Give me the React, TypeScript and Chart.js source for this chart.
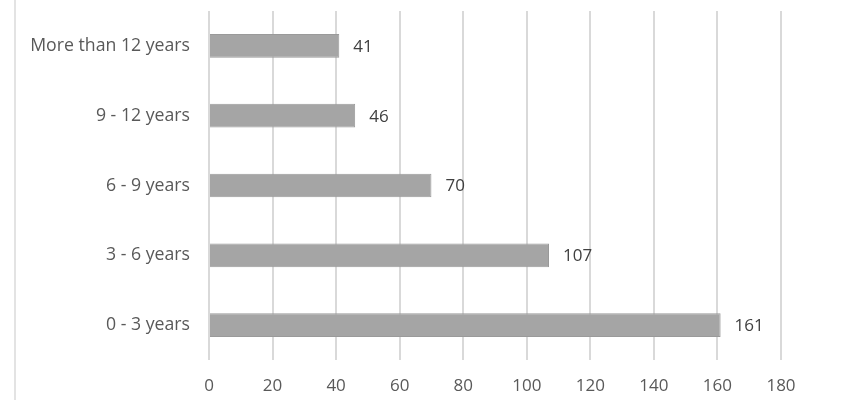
import React, { useEffect, useRef } from "react";
import { Chart, registerables } from "chart.js";

Chart.register(...registerables);

const categories = ["More than 12 years", "9 - 12 years", "6 - 9 years", "3 - 6 years", "0 - 3 years"];
const counts = [41, 46, 70, 107, 161];
const xTicks = [0, 20, 40, 60, 80, 100, 120, 140, 160, 180];

const FONT = "'Open Sans', sans-serif";

const valueLabels = {
  id: "valueLabels",
  afterDatasetsDraw(chart: any) {
    const ctx = chart.ctx;
    const meta = chart.getDatasetMeta(0);
    ctx.save();
    ctx.font = `17px ${FONT}`;
    ctx.fillStyle = "#404040";
    ctx.textAlign = "left";
    ctx.textBaseline = "middle";
    meta.data.forEach((el: any, i: number) => {
      ctx.fillText(String(counts[i]), el.x + 14, el.y + 1);
    });
    ctx.restore();
  },
};

export default function App() {
  const ref = useRef<HTMLCanvasElement>(null);
  useEffect(() => {
    if (!ref.current) return;
    const chart = new Chart(ref.current, {
      type: "bar",
      data: {
        labels: categories,
        datasets: [
          {
            data: counts,
            backgroundColor: "#a5a5a5",
            borderColor: "#9a9a9a",
            borderWidth: 1,
            barPercentage: 0.68,
            categoryPercentage: 0.5,
          },
        ],
      },
      options: {
        indexAxis: "y",
        animation: false,
        responsive: false,
        maintainAspectRatio: false,
        layout: { padding: { top: 11, right: 63, bottom: 0, left: 0 } },
        plugins: { legend: { display: false }, tooltip: { enabled: false } },
        scales: {
          x: {
            min: 0,
            max: 180,
            afterBuildTicks: (s: any) => {
              s.ticks = xTicks.map((v) => ({ value: v }));
            },
            afterFit: (s: any) => {
              s.height = 50;
              s.paddingLeft = 0;
              s.paddingRight = 0;
            },
            grid: { color: "#d9d9d9", lineWidth: 2, drawTicks: false },
            border: { display: false },
            ticks: { color: "#595959", font: { family: FONT, size: 17 }, padding: 16 },
          },
          y: {
            afterFit: (s: any) => {
              s.width = 209;
              s.paddingTop = 0;
              s.paddingBottom = 0;
            },
            grid: { display: false, drawTicks: false },
            border: { display: false },
            ticks: { color: "#595959", font: { family: FONT, size: 17.7 }, padding: 19 },
          },
        },
      },
      plugins: [valueLabels],
    });
    return () => chart.destroy();
  }, []);
  return (
    <div style={{ position: "fixed", left: 0, top: 0, width: 844, height: 410, background: "#fff" }}>
      <div style={{ position: "absolute", left: 14, top: 0, width: 2, height: 400, background: "#e3e3e3" }} />
      <canvas ref={ref} width={844} height={410} style={{ position: "absolute", left: 0, top: 0 }} />
    </div>
  );
}
